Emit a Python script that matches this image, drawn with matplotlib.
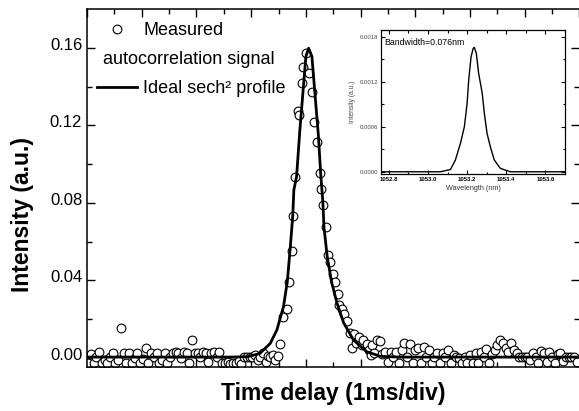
import numpy as np
import matplotlib
matplotlib.use("Agg")
import matplotlib.pyplot as plt
from matplotlib.lines import Line2D
from matplotlib.transforms import ScaledTranslation

plt.rcParams['font.family'] = ['Liberation Sans', 'DejaVu Sans']

# measured autocorrelation trace (time in divisions, intensity in 1e-3 a.u.)
t_meas = [0.02, 0.07, 0.12, 0.17, 0.22, 0.27, 0.32, 0.37, 0.42, 0.47, 0.52, 0.57, 0.62, 0.67,
          0.72, 0.77, 0.82, 0.87, 0.92, 0.97, 1.02, 1.07, 1.12, 1.17, 1.22, 1.27, 1.32, 1.37,
          1.42, 1.47, 1.52, 1.57, 1.62, 1.67, 1.72, 1.77, 1.82, 1.87, 1.92, 1.97, 2.02, 2.07,
          2.12, 2.17, 2.22, 2.27, 2.32, 2.37, 2.42, 2.47, 2.52, 2.57, 2.62, 2.67, 2.72, 2.77,
          2.82, 2.87, 2.92, 2.97, 3.02, 3.07, 3.12,
          3.17, 3.22, 3.27, 3.30, 3.35, 3.40, 3.44, 3.49, 3.53, 3.59, 3.65, 3.70, 3.74, 3.77,
          3.81, 3.85, 3.88, 3.92, 3.95, 4.00, 4.06, 4.11, 4.15, 4.20, 4.25, 4.28, 4.32, 4.37,
          4.41, 4.44, 4.50, 4.54, 4.58, 4.61, 4.66, 4.70, 4.76, 4.81, 4.85, 4.88, 4.92, 4.97,
          5.03, 5.05, 5.11, 5.15, 5.19, 5.21, 5.25, 5.30,
          5.35, 5.40, 5.45, 5.50, 5.55, 5.60, 5.65, 5.70, 5.75, 5.80, 5.85, 5.90, 5.95, 6.00,
          6.05, 6.10, 6.15, 6.20, 6.25, 6.30, 6.35, 6.40, 6.45, 6.50, 6.55, 6.60, 6.65, 6.70,
          6.75, 6.80, 6.85, 6.90, 6.95, 7.00, 7.05, 7.10, 7.15, 7.20, 7.25, 7.30, 7.35, 7.40,
          7.45, 7.50, 7.55, 7.60, 7.65, 7.70, 7.75, 7.80, 7.85, 7.90, 7.95, 8.00, 8.05, 8.10,
          8.15, 8.20, 8.25, 8.30, 8.35, 8.40, 8.45, 8.50, 8.55, 8.60, 8.65, 8.70, 8.75, 8.80,
          8.85, 8.90, 8.95]
i_meas = [-2.5, 2.0, -2.8, 0.5, 3.0, -2.7, -1.0, -2.8, 0.3, 2.4, -2.6, -1.2, 15.3, 2.8,
          -2.7, 2.5, -2.8, 0.2, 2.4, -2.6, -0.5, 5.0, -2.7, 2.4, 0.3, 2.5, -2.8, -1.0,
          2.4, -2.7, 0.4, 2.8, 2.9, 2.8, 0.2, 2.9, 2.7, -2.6, 9.3, 2.8, 2.7, 0.5,
          2.9, 2.7, -2.0, 2.8, 2.9, 0.3, 3.0, -2.4, -2.8, -2.2, -2.9, -2.6, -2.8, -1.5,
          -2.9, 0.4, 0.3, 0.5, 0.6, 1.4, -1.0,
          0.4, 2.4, -1.8, 0.9, 0.7, 1.4, -1.2, 1.0, 7.2, 21.3, 25.4, 39.2, 55.4, 73.3,
          93.6, 127.6, 125.2, 141.7, 150.0, 157.2, 147.2, 137.3, 121.8, 111.5, 95.3, 87.4, 79.1, 67.4,
          53.0, 49.5, 43.3, 39.2, 33.0, 27.2, 25.1, 22.7, 19.2, 13.1, 5.2, 12.4, 8.0, 11.0,
          6.6, 9.3, 7.2, 4.1, 1.4, 6.9, 2.4, 9.3,
          8.9, 2.0, 3.3, -2.0, 3.3, 0.5, 3.3, -2.5, 4.1, 7.6, 0.8, 7.2, -2.6, 4.1,
          5.0, -2.7, 5.8, 0.6, 4.1, -2.8, 0.4, 2.4, -2.7, 2.4, 0.3, 4.1, -2.6, 1.5,
          0.3, 0.2, -2.8, 0.3, -2.7, 1.5, -2.8, 2.4, -2.6, 3.0, 0.7, 4.5, -2.7, 2.0,
          4.1, 6.5, 9.3, 7.6, 5.0, 2.9, 7.6, 4.0, 2.4, 0.4, 0.3, 0.4, 0.3, -1.0,
          2.8, 0.7, -2.5, 3.4, 2.4, -1.8, 3.3, 0.8, -2.6, 2.0, 2.4, -1.5, 0.3, 0.4,
          0.3, 0.4, -1.9]

# ideal sech^2 profile
t_fit = [0.0, 1.5, 2.6, 2.94, 3.16, 3.35, 3.47, 3.59, 3.66, 3.71, 3.76, 3.78, 3.83, 3.89,
         3.95, 4.00, 4.05, 4.11, 4.17, 4.23, 4.27, 4.31, 4.33, 4.39, 4.47, 4.57, 4.69, 4.87,
         5.11, 5.36, 5.7, 7.0, 9.0]
i_fit = [0.5, 0.5, 0.5, 0.7, 2.4, 7.6, 14.5, 26.5, 39.2, 55.4, 73.3, 86.7, 93.6, 117.6,
         138.3, 155.5, 159.8, 155.5, 134.8, 114.2, 95.3, 80.5, 67.6, 52.3, 39.2, 28.2, 18.2, 9.3,
         3.3, 0.9, 0.5, 0.5, 0.5]

# inset: optical spectrum
wl = [1052.76, 1053.00, 1053.064, 1053.115, 1053.140, 1053.166, 1053.186, 1053.200, 1053.208,
      1053.220, 1053.231, 1053.237, 1053.247, 1053.259, 1053.277, 1053.288, 1053.302, 1053.319,
      1053.339, 1053.370, 1053.421, 1053.70]
spec = [0.0, 0.0, 0.0, 0.00003, 0.000156, 0.000379, 0.0006, 0.000912, 0.00122,
        0.00153, 0.001645, 0.001659, 0.00158, 0.00131, 0.00105, 0.00078, 0.00051, 0.00033,
        0.000156, 0.000045, 0.0, 0.0]

fig = plt.figure(figsize=(5.79, 4.11), dpi=100)
ax = fig.add_axes([0.1503, 0.1071, 0.8505, 0.8710])

ax.plot(t_meas, np.array(i_meas) / 1000, 'o', ms=6.3, mfc='white', mec='black', mew=0.8,
        zorder=2)
ax.plot(t_fit, np.array(i_fit) / 1000, color='black', lw=2.0, zorder=3)

ax.set_xlim(0, 9)
ax.set_ylim(-0.0046, 0.180)
ax.set_xticks(np.arange(0, 10, 1))
ax.set_xticks(np.arange(0.5, 9, 1), minor=True)
ax.set_yticks([0.0, 0.04, 0.08, 0.12, 0.16])
ax.set_yticklabels(['0.00', '0.04', '0.08', '0.12', '0.16'])
ax.set_yticks([0.02, 0.06, 0.10, 0.14], minor=True)
ax.tick_params(which='both', direction='in', top=True, right=True, labelbottom=False,
               width=1.0, labelsize=12, pad=3.5)
ax.tick_params(which='major', length=6)
ax.tick_params(which='minor', length=3.5)
ax.spines['right'].set_visible(False)
for s in ['left', 'top', 'bottom']:
    ax.spines[s].set_linewidth(1.1)
for lab in ax.get_yticklabels():
    lab.set_transform(lab.get_transform() + ScaledTranslation(0, 4 / 100, fig.dpi_scale_trans))

ax.set_xlabel('Time delay (1ms/div)', fontsize=16.5, fontweight='bold', labelpad=11)
ax.set_ylabel('Intensity (a.u.)', fontsize=16.5, fontweight='bold')
ax.yaxis.set_label_coords(-0.108, 0.427)

handles = [Line2D([], [], ls='none', marker='o', ms=6.3, mfc='white', mec='black', mew=0.8),
           Line2D([], [], ls='none'),
           Line2D([], [], color='black', lw=2.0)]
labels = ['Measured', 'autocorrelation signal', 'Ideal sech² profile']
leg = ax.legend(handles, labels, loc='upper left', bbox_to_anchor=(0.0203, 0.964),
                frameon=False, fontsize=13, borderpad=0, borderaxespad=0,
                handlelength=2.2, handletextpad=0.35, labelspacing=0.67)
txt = leg.get_texts()[1]
txt.set_transform(txt.get_transform() + ScaledTranslation(-40 / 100, 0, fig.dpi_scale_trans))

# inset spectrum
ins = fig.add_axes([0.658, 0.5766, 0.3178, 0.3504])
ins.plot(wl, spec, color='black', lw=1.0)
ins.set_xlim(1052.76, 1053.70)
ins.set_ylim(-0.00003, 0.00189)
ins.set_xticks([1052.8, 1053.0, 1053.2, 1053.4, 1053.6])
ins.set_xticklabels(['1052.8', '1053.0', '1053.2', '1053.4', '1053.6'], fontweight='bold')
ins.set_xticks([1052.9, 1053.1, 1053.3, 1053.5], minor=True)
ins.set_yticks([0.0, 0.0006, 0.0012, 0.0018])
ins.set_yticklabels(['0.0000', '0.0006', '0.0012', '0.0018'], color='#444444')
ins.set_yticks([0.0003, 0.0009, 0.0015], minor=True)
ins.tick_params(which='both', direction='in', top=True, right=True, width=0.8,
                labelsize=4.3, pad=2)
ins.tick_params(which='major', length=3)
ins.tick_params(which='minor', length=1.8)
for s in ins.spines.values():
    s.set_linewidth(0.9)
ins.set_xlabel('Wavelength (nm)', fontsize=5.2, color='#333333', labelpad=2)
ins.set_ylabel('Intensity (a.u.)', fontsize=4.8, color='#444444', labelpad=3)
ins.text(0.02, 0.91, 'Bandwidth=0.076nm', transform=ins.transAxes, fontsize=6.3,
         va='center', ha='left')

fig.savefig('out.png', dpi=100)
